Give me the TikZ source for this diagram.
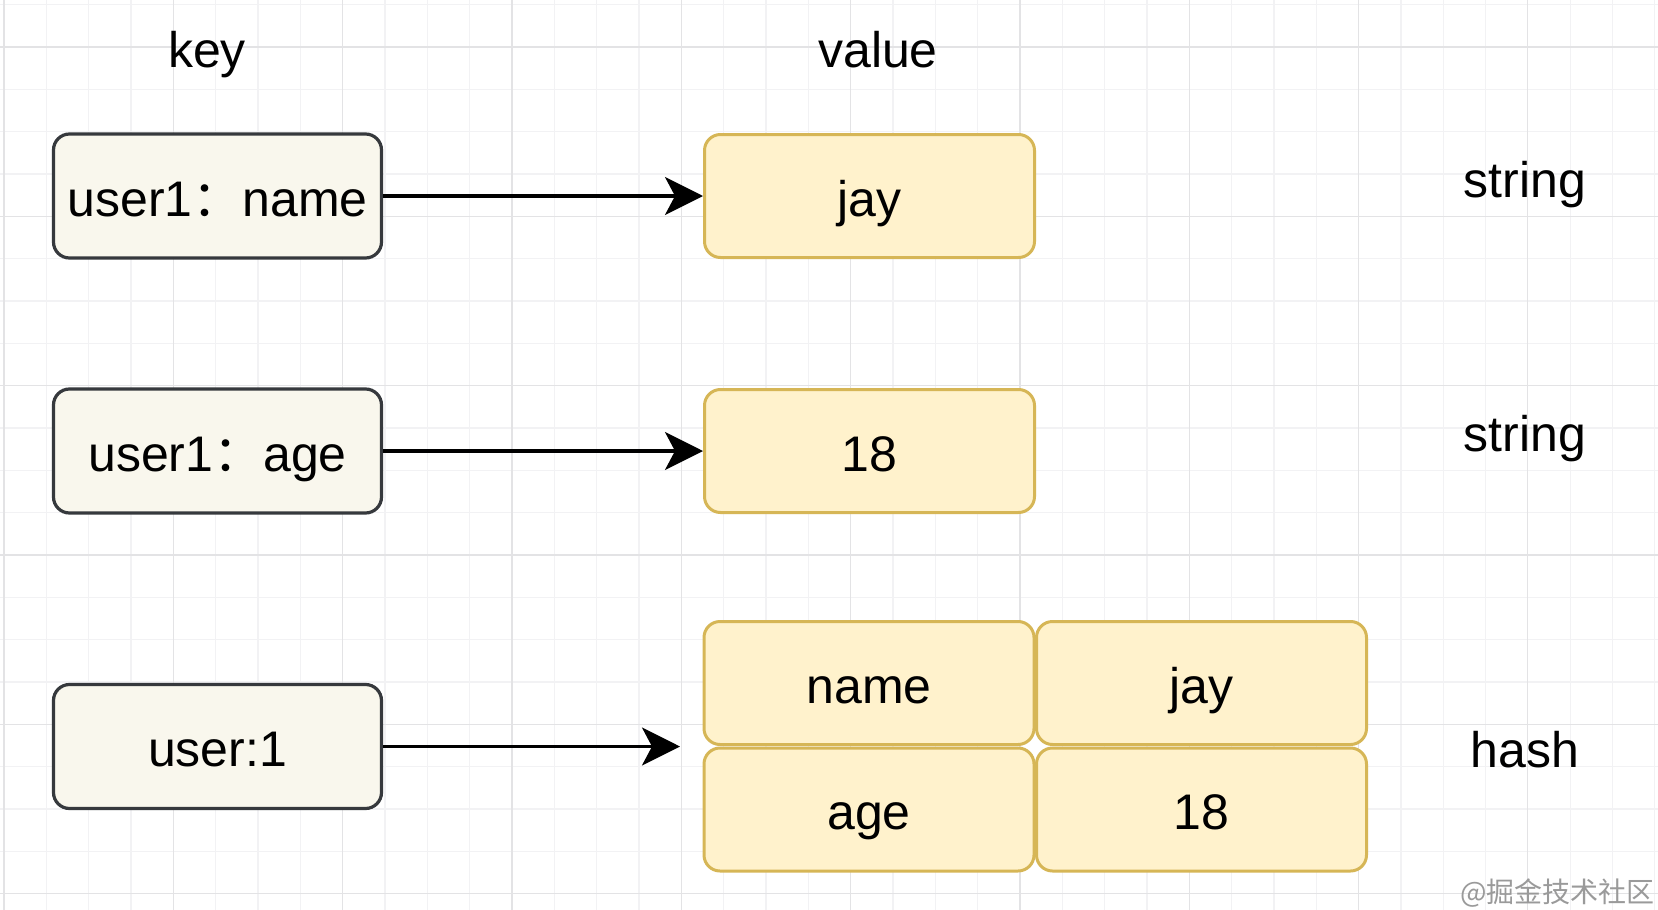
\documentclass[tikz,border=0pt]{standalone}
\usepackage{fontspec}
\setmainfont{Liberation Sans}
\newfontfamily\cjk{Noto Sans CJK SC}
\usetikzlibrary{arrows.meta}
\definecolor{keyfill}{HTML}{F9F7ED}
\definecolor{keydraw}{HTML}{36393D}
\definecolor{valfill}{HTML}{FFF2CC}
\definecolor{valdraw}{HTML}{D6B656}
\definecolor{gridminor}{HTML}{F2F2F4}
\definecolor{gridmajor}{HTML}{E3E3E5}
\definecolor{wmark}{HTML}{9A9A9A}
\begin{document}
\begin{tikzpicture}[x=1pt,y=-1pt,
  txt/.style={font=\fontsize{50}{58}\selectfont, text height=40pt, text depth=0pt, inner sep=0pt},
  lbl/.style={txt},
  keybox/.style={txt, draw=keydraw, fill=keyfill, line width=3.2pt, rounded corners=16pt, minimum width=328pt, minimum height=124pt},
  valbox/.style={txt, draw=valdraw, fill=valfill, line width=3pt, rounded corners=16pt, minimum width=330pt, minimum height=123pt},
  conn/.style={line width=3.2pt, -{Stealth[length=38pt,width=38pt,inset=10pt]}},
  gminor/.style={draw=gridminor, line width=1.2pt},
  gmajor/.style={draw=gridmajor, line width=1.2pt}]
\useasboundingbox (0,0) rectangle (1658,910);
\clip (0,0) rectangle (1658,910);
\fill[white] (0,0) rectangle (1658,910);
% grid
\foreach \i in {0,...,39} \draw[gminor] ({4+42.33*\i},0) -- ++(0,910);
\foreach \j in {0,...,21} \draw[gminor] (0,{4.7+42.33*\j}) -- ++(1658,0);
\foreach \i in {0,...,9} \draw[gmajor] ({4+169.32*\i},0) -- ++(0,910);
\foreach \j in {0,...,5} \draw[gmajor] (0,{47+169.32*\j}) -- ++(1658,0);
% headers and type labels
\node[lbl] (keyl) at (207,47) {key};
\node[lbl] (vall) at (878,47) {value};
\node[lbl] (s1) at (1525,177) {string};
\node[lbl] (s2) at (1525,431) {string};
\node[lbl] (hs) at (1525,747) {hash};
% keys
\node[keybox] (k1) at (217.5,196) {user1{\cjk ：}name};
\node[keybox] (k2) at (217.5,451) {user1{\cjk ：}age};
\node[keybox] (k3) at (217.5,746.5) {user:1};
% values
\node[valbox] (v1) at (869.5,196) {jay};
\node[valbox] (v2) at (869.5,451) {18};
\node[valbox] (hn) at (869,683) {name};
\node[valbox] (hj) at (1201.5,683) {jay};
\node[valbox] (ha) at (869,809.5) {age};
\node[valbox] (h18) at (1201.5,809.5) {18};
% connectors
\coordinate (h3) at (680,746.5);
\draw[conn] (k1) -- (v1);
\draw[conn] (k2) -- (v2);
\draw[conn] (k3) -- (h3);
% watermark
\node[anchor=south east, inner sep=0pt, text=wmark, font=\cjk\fontsize{28}{28}\selectfont] (wm) at (1655,908) {@掘金技术社区};
\end{tikzpicture}
\end{document}
